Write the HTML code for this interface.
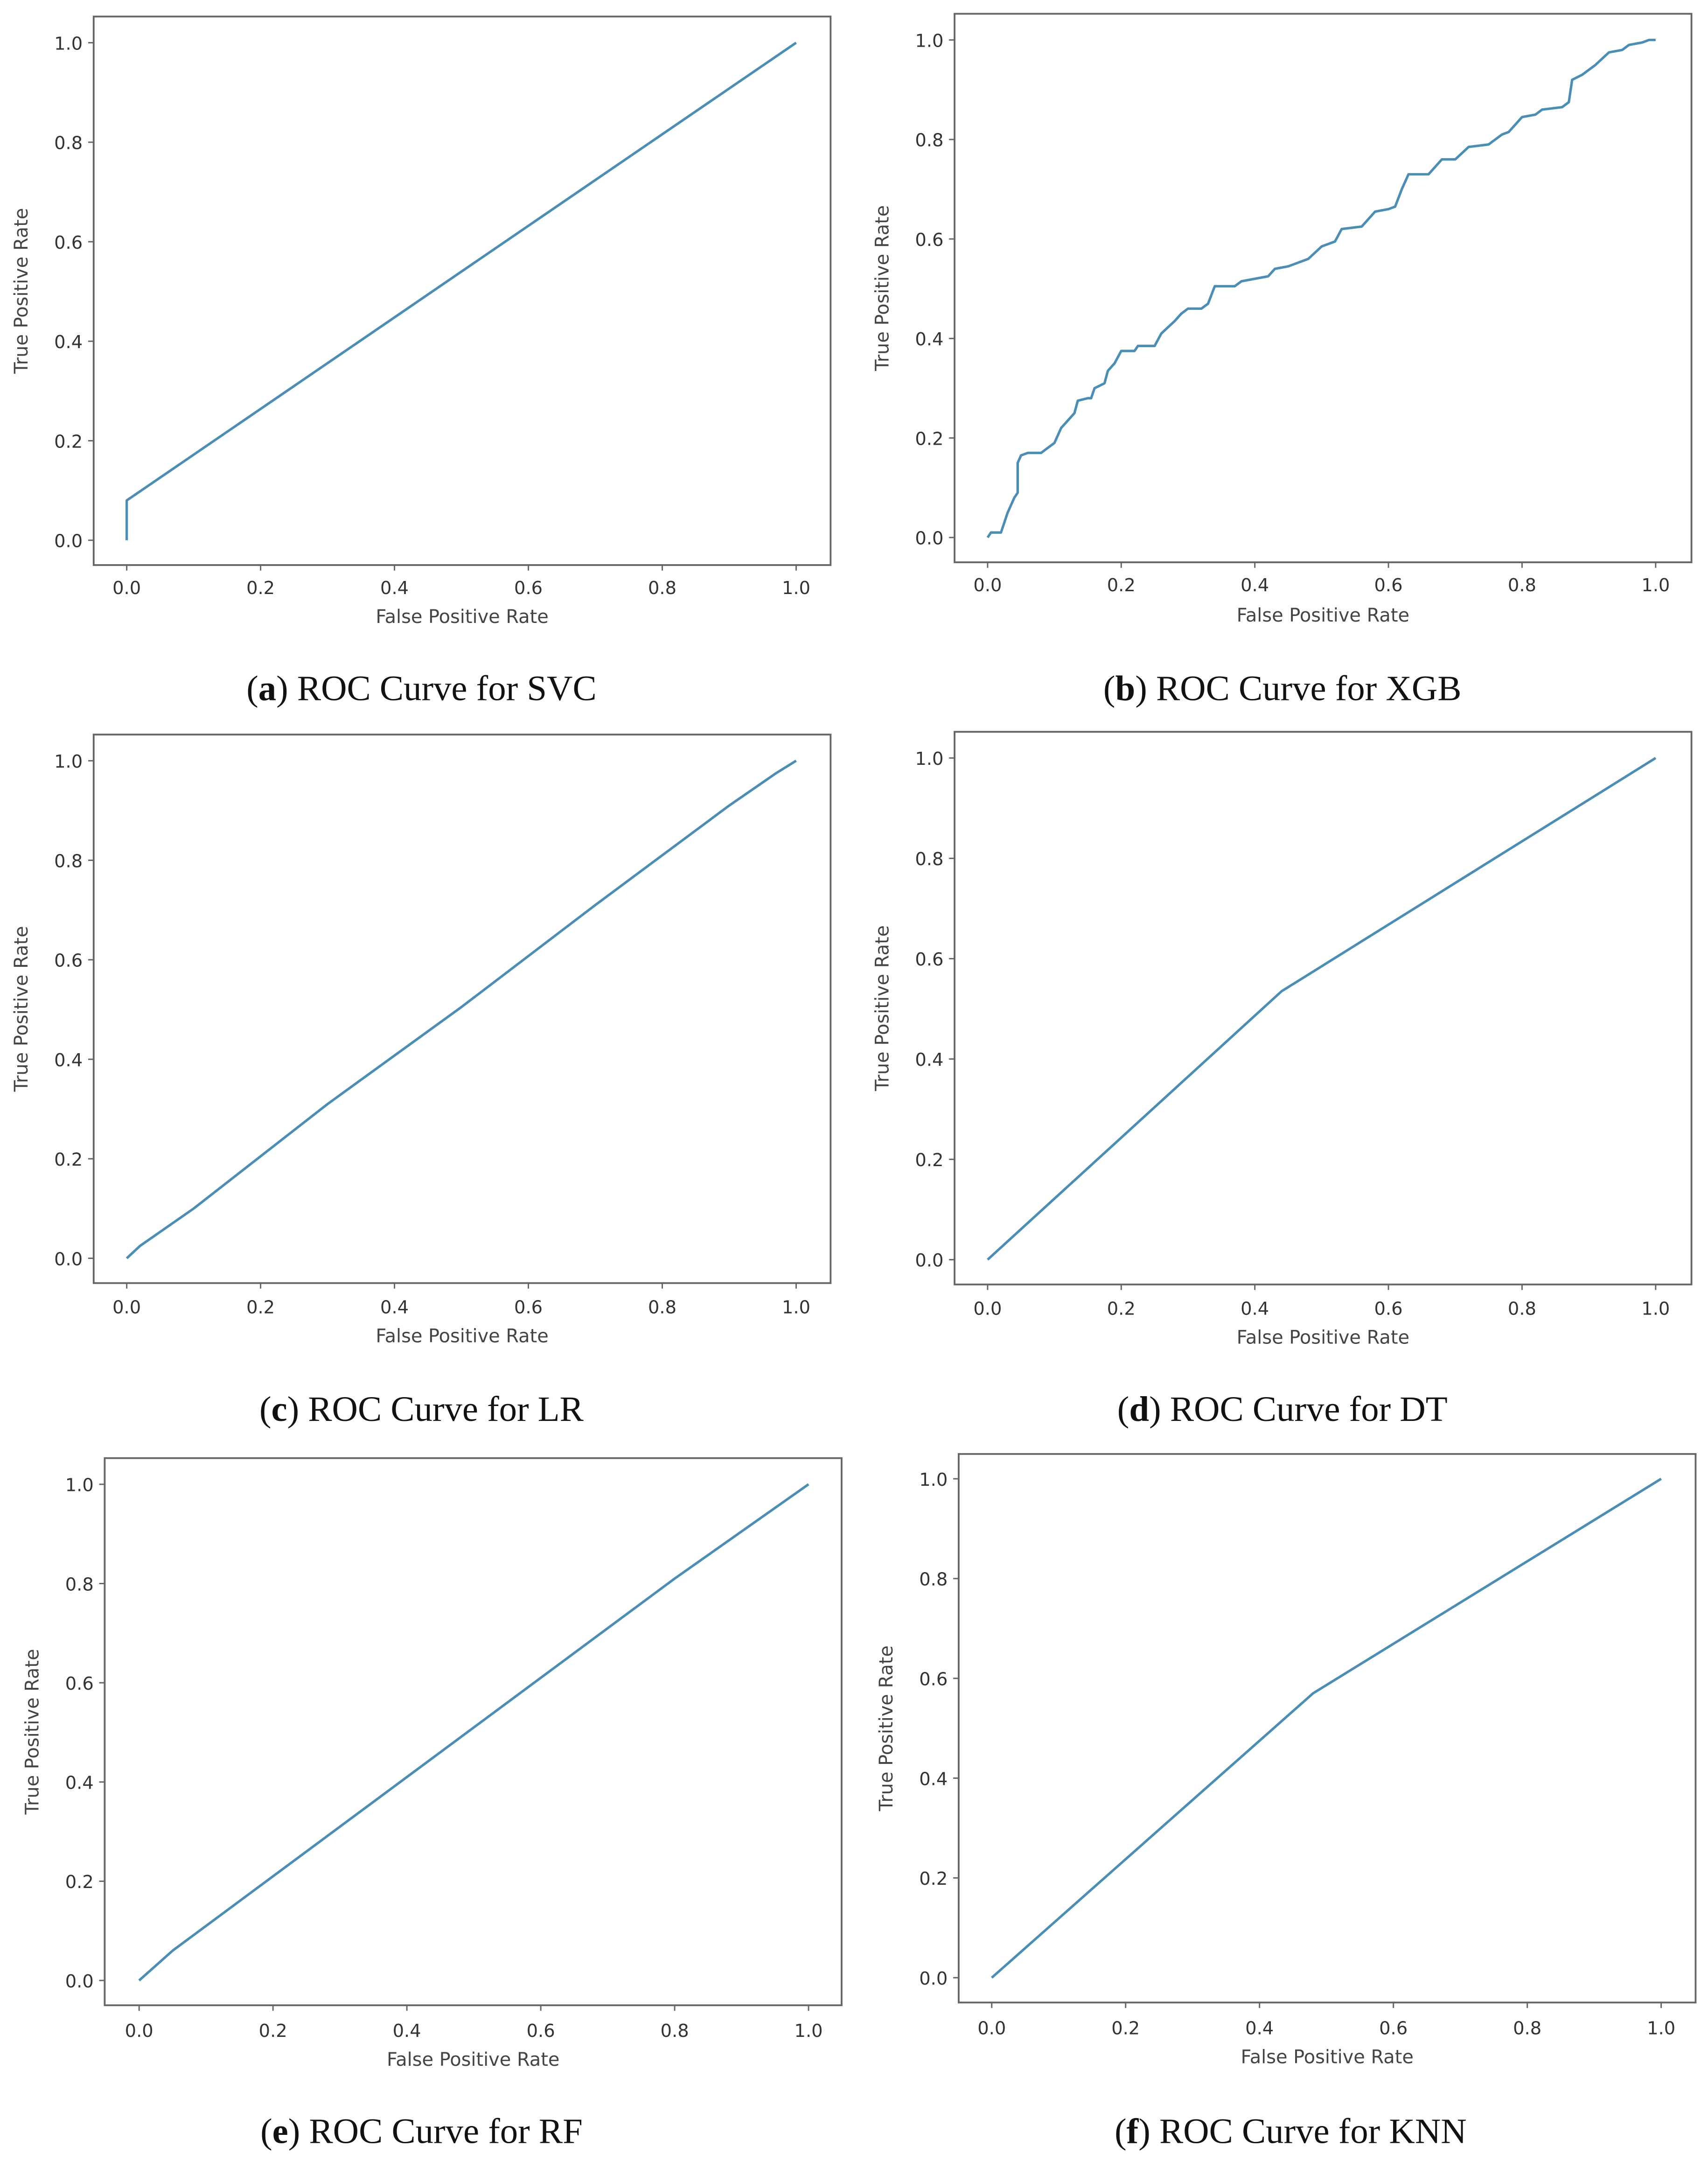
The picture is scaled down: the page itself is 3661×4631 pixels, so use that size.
<!DOCTYPE html>
<html><head><meta charset="utf-8">
<style>
html,body{margin:0;padding:0;background:#fff;width:3661px;height:4631px;overflow:hidden}
svg{display:block}
.tick{font-family:"DejaVu Sans","Liberation Sans",sans-serif;font-size:13px;fill:#333}
.albl{font-family:"DejaVu Sans","Liberation Sans",sans-serif;font-size:13.5px;fill:#444}
.cap{font-family:"Liberation Serif",serif;font-size:26px;fill:#111}
</style></head><body>
<svg id="fig" width="3661" height="4631" viewBox="0 0 1240 1568" preserveAspectRatio="none" xmlns="http://www.w3.org/2000/svg"></svg>
<script>
const tickValues=[0,0.2,0.4,0.6,0.8,1.0];
const tickLabels=["0.0","0.2","0.4","0.6","0.8","1.0"];
const svcFpr=[0,0,1];
const svcTpr=[0,0.08,1];
const xgbFpr=[0,0.005,0.02,0.03,0.04,0.045,0.045,0.05,0.06,0.08,0.09,0.1,0.11,0.12,0.13,0.135,0.15,0.155,0.16,0.175,0.18,0.19,0.2,0.22,0.225,0.25,0.26,0.28,0.29,0.3,0.32,0.33,0.34,0.37,0.38,0.4,0.42,0.43,0.45,0.46,0.48,0.5,0.52,0.53,0.56,0.58,0.6,0.61,0.62,0.63,0.66,0.67,0.68,0.7,0.72,0.75,0.76,0.77,0.78,0.79,0.8,0.82,0.83,0.86,0.87,0.875,0.89,0.9,0.91,0.93,0.95,0.96,0.98,0.99,1];
const xgbTpr=[0,0.01,0.01,0.05,0.08,0.09,0.15,0.165,0.17,0.17,0.18,0.19,0.22,0.235,0.25,0.275,0.28,0.28,0.3,0.31,0.335,0.35,0.375,0.375,0.385,0.385,0.41,0.435,0.45,0.46,0.46,0.47,0.505,0.505,0.515,0.52,0.525,0.54,0.545,0.55,0.56,0.585,0.595,0.62,0.625,0.655,0.66,0.665,0.7,0.73,0.73,0.745,0.76,0.76,0.785,0.79,0.8,0.81,0.815,0.83,0.845,0.85,0.86,0.865,0.875,0.92,0.93,0.94,0.95,0.975,0.98,0.99,0.995,1.0,1];
const lrFpr=[0,0.02,0.1,0.3,0.5,0.7,0.9,0.97,1];
const lrTpr=[0,0.025,0.1,0.31,0.505,0.71,0.91,0.975,1];
const dtFpr=[0,0.44,1];
const dtTpr=[0,0.535,1];
const rfFpr=[0,0.05,0.16,0.8,1];
const rfTpr=[0,0.06,0.17,0.81,1];
const knnFpr=[0,0.48,1];
const knnTpr=[0,0.57,1];

const panels=[
 {id:'svc',fpr:svcFpr,tpr:svcTpr,box:[68,12,603,410],x0:92,x1:578,y0:392,y1:31,tl:426,xl:447,cap:500,cx:306,letter:'a',name:'SVC'},
 {id:'xgb',fpr:xgbFpr,tpr:xgbTpr,box:[693,10,1228,408],x0:717,x1:1202,y0:390,y1:29,tl:424,xl:446,cap:500,cx:931,letter:'b',name:'XGB'},
 {id:'lr',fpr:lrFpr,tpr:lrTpr,box:[68,533,603,931],x0:92,x1:578,y0:913,y1:552,tl:948,xl:969,cap:1023,cx:306,letter:'c',name:'LR'},
 {id:'dt',fpr:dtFpr,tpr:dtTpr,box:[693,531,1228,932],x0:717,x1:1202,y0:914,y1:550,tl:949,xl:970,cap:1023,cx:931,letter:'d',name:'DT'},
 {id:'rf',fpr:rfFpr,tpr:rfTpr,box:[76,1058,611,1455],x0:101,x1:587,y0:1437,y1:1077,tl:1473,xl:1494,cap:1547,cx:306,letter:'e',name:'RF'},
 {id:'knn',fpr:knnFpr,tpr:knnTpr,box:[696,1055,1231,1453],x0:720,x1:1206,y0:1435,y1:1073,tl:1471,xl:1492,cap:1547,cx:937,letter:'f',name:'KNN'}
];
const NS='http://www.w3.org/2000/svg';
const fig=document.getElementById('fig');
function mk(tag,attrs,parent,text){const e=document.createElementNS(NS,tag);for(const k in attrs)e.setAttribute(k,attrs[k]);if(text!==undefined)e.textContent=text;parent.appendChild(e);return e;}
panels.forEach(p=>{
 const g=mk('g',{},fig);
 
 
 const sx=v=>p.x0+v*(p.x1-p.x0);
 const sy=v=>p.y0+v*(p.y1-p.y0);
 const [bx0,by0,bx1,by1]=p.box;
 const r=mk('rect',{x:bx0,y:by0,width:bx1-bx0,height:by1-by0,fill:'#fff',stroke:'#666','stroke-width':1.3},g);
 
 
 tickValues.forEach((v,i)=>{
  mk('line',{x1:sx(v),x2:sx(v),y1:by1,y2:by1+4,stroke:'#666','stroke-width':1},g);
  const tx=mk('text',{x:sx(v),y:p.tl+5,'text-anchor':'middle',class:'tick'},g,tickLabels[i]);
  
  
  mk('line',{x1:bx0-4,x2:bx0,y1:sy(v),y2:sy(v),stroke:'#666','stroke-width':1},g);
  const ty=mk('text',{x:bx0-8,y:sy(v)+5,'text-anchor':'end',class:'tick'},g,tickLabels[i]);
  
  
 });
 const xl=mk('text',{x:(bx0+bx1)/2,y:p.xl+5,'text-anchor':'middle',class:'albl'},g,'False Positive Rate');
 
 
 const ycx=bx0-48, ycy=(by0+by1)/2;
 const yl=mk('text',{x:ycx,y:ycy,'text-anchor':'middle',class:'albl',transform:'rotate(-90 '+ycx+' '+ycy+')'},g,'True Positive Rate');
 
 
 const pts=p.fpr.map((f,i)=>sx(f).toFixed(2)+','+sy(p.tpr[i]).toFixed(2)).join(' ');
 const pl=mk('polyline',{points:pts,fill:'none',stroke:'#4a8db5','stroke-width':1.8,'stroke-linejoin':'round'},g);
 
 
 const c=mk('text',{x:p.cx,y:p.cap+8,'text-anchor':'middle',class:'cap'},g);
 
 
 mk('tspan',{},c,'(');
 mk('tspan',{'font-weight':'bold'},c,p.letter);
 mk('tspan',{},c,') ROC Curve for '+p.name);
});
</script>
</body></html>
